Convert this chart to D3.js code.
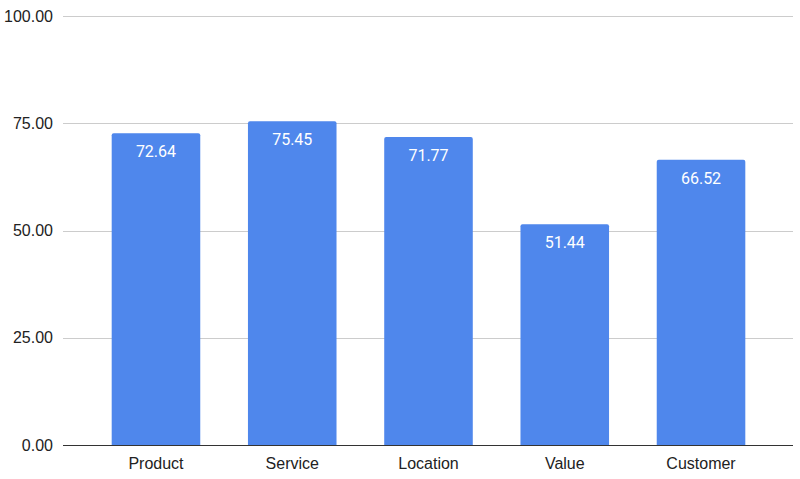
<!DOCTYPE html>
<html lang="en">
<head>
    <meta charset="UTF-8">
    <title>Scores</title>
    <script src="https://d3js.org/d3.v7.min.js"></script>
    <style>
        body { margin: 0; background: #fff; font-family: Roboto, sans-serif; }
        .tick text { font-family: Arial, 'Liberation Sans', sans-serif; }
    </style>
</head>
<body>
    <div id="chart"></div>
    <script>
        const categories = ['Product', 'Service', 'Location', 'Value', 'Customer'];
        const values = [72.64, 75.45, 71.77, 51.44, 66.52];
        const yTicks = [0, 25, 50, 75, 100];

        const width = 800, height = 479;
        const margin = { top: 16, right: 7, bottom: 34, left: 64 };

        const svg = d3.select('#chart').append('svg')
            .attr('width', width)
            .attr('height', height);

        const x = d3.scaleBand()
            .domain(categories)
            .range([margin.left, width - margin.right])
            .paddingInner(0.35)
            .paddingOuter(0.35);

        const y = d3.scaleLinear()
            .domain([0, 100])
            .range([height - margin.bottom, margin.top]);

        // gridlines
        svg.append('g')
            .selectAll('line')
            .data(yTicks.filter(d => d > 0))
            .join('line')
            .attr('x1', margin.left - 1)
            .attr('x2', width - margin.right)
            .attr('y1', d => Math.round(y(d)) + 0.5)
            .attr('y2', d => Math.round(y(d)) + 0.5)
            .attr('stroke', '#cccccc');

        // y axis labels
        const yAxis = svg.append('g')
            .attr('transform', `translate(${margin.left},0)`)
            .call(d3.axisLeft(y).tickValues(yTicks).tickFormat(d3.format('.2f')).tickSize(0).tickPadding(11));
        yAxis.select('.domain').remove();
        yAxis.selectAll('text').attr('font-size', 16).attr('fill', '#222');

        // bars
        const r = 2;
        svg.append('g')
            .selectAll('path')
            .data(values)
            .join('path')
            .attr('fill', '#4f87ec')
            .attr('d', (d, i) => {
                const x0 = x(categories[i]), x1 = x0 + x.bandwidth();
                const y0 = y(0), y1 = y(d);
                return `M${x0},${y0}V${y1 + r}Q${x0},${y1} ${x0 + r},${y1}H${x1 - r}Q${x1},${y1} ${x1},${y1 + r}V${y0}Z`;
            });

        // value labels
        svg.append('g')
            .selectAll('text')
            .data(values)
            .join('text')
            .attr('x', (d, i) => x(categories[i]) + x.bandwidth() / 2)
            .attr('y', d => y(d) + 24)
            .attr('text-anchor', 'middle')
            .attr('font-size', 16)
            .attr('fill', '#ffffff')
            .text(d => d.toFixed(2));

        // baseline
        svg.append('line')
            .attr('x1', margin.left - 1)
            .attr('x2', width - margin.right)
            .attr('y1', y(0) + 0.5)
            .attr('y2', y(0) + 0.5)
            .attr('stroke', '#333333');

        // x axis labels
        const xAxis = svg.append('g')
            .attr('transform', `translate(0,${y(0)})`)
            .call(d3.axisBottom(x).tickSize(0).tickPadding(13));
        xAxis.select('.domain').remove();
        xAxis.selectAll('text').attr('font-size', 16).attr('fill', '#222');
    </script>
</body>
</html>
